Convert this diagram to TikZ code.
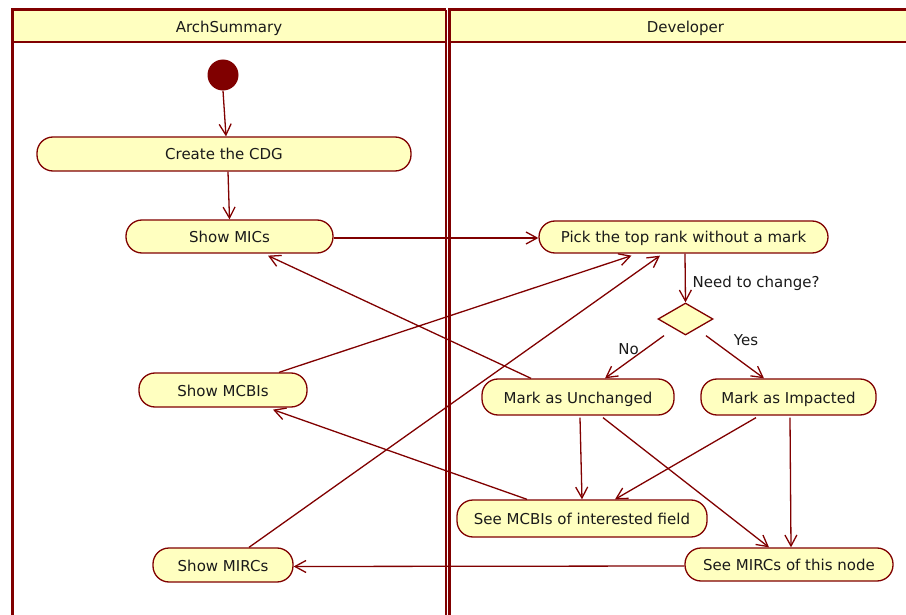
\documentclass[tikz,border=0pt]{standalone}
\usepackage{fontspec}
\setmainfont{DejaVu Sans}
\usetikzlibrary{arrows.meta,shapes.geometric}
\definecolor{umlred}{HTML}{800000}
\definecolor{umlfill}{HTML}{FFFFC0}
\definecolor{umltext}{HTML}{1A1A1A}
\begin{document}
\begin{tikzpicture}[x=1pt,y=-1pt,
  every node/.style={font=\fontsize{15}{18}\selectfont, text=umltext},
  action/.style={draw=umlred, fill=umlfill, line width=1.3pt, rounded corners=16pt,
    inner sep=0pt, minimum height=#1, text depth=0pt, text height=12pt},
  action/.default=34pt,
  decision/.style={diamond, draw=umlred, fill=umlfill, line width=1.3pt, inner sep=0pt,
    minimum width=55pt, minimum height=32pt},
  flow/.style={draw=umlred, line width=1.3pt,
    -{Straight Barb[length=11pt,width=12pt,line width=1.3pt]}},
  lane/.style={draw=umlred, line width=3pt},
  guard/.style={inner sep=0pt}
]
\useasboundingbox (0,0) rectangle (906,615);
\clip (0,0) rectangle (906,615);

% swimlane headers
\fill[umlfill] (12,10) rectangle (446,42);
\fill[umlfill] (450,10) rectangle (921,42);
\node (laneA) at (229,28.5) {ArchSummary};
\node (laneB) at (685.5,28.5) {Developer};

% swimlane frames
\draw[lane] (12,630) -- (12,10) -- (446,10);
\draw[lane, line width=2pt] (445.5,10) -- (445.5,630);
\draw[lane, line width=2.5pt] (12,42) -- (446,42);
\draw[lane] (449.5,630) -- (449.5,10) -- (921,10);
\draw[lane, line width=2.5pt] (450,42) -- (921,42);

% initial node
\node[circle, fill=umlred, minimum size=31pt, inner sep=0pt] (start) at (223,75) {};

% actions in the ArchSummary lane
\node[action, minimum width=374pt] (cdg)   at (224,154)   {Create the CDG};
\node[action=33pt, minimum width=207pt] (mics)  at (229.5,236.5) {Show MICs};
\node[action, minimum width=168pt] (mcbis) at (223,390)   {Show MCBIs};
\node[action, minimum width=140pt] (mircs) at (223,565)   {Show MIRCs};

% actions in the Developer lane
\node[action=32pt, minimum width=289pt] (pick) at (683.5,237) {Pick the top rank without a mark};
\node[decision] (need) at (685.5,319) {};
\node[action=36pt, minimum width=192pt] (unch) at (578,397) {Mark as Unchanged};
\node[action=36pt, minimum width=175pt] (imp)  at (788.5,397) {Mark as Impacted};
\node[action=37pt, minimum width=250pt] (field) at (582,518.5) {See MCBIs of interested field};
\node[action=33pt, minimum width=208pt] (node) at (789,564.5) {See MIRCs of this node};

% guard labels (shifts are in page units: negative yshift moves down)
\node[guard, anchor=west] (qlabel) at ([xshift=9pt,yshift=-30pt]pick.south) {Need to change?};
\node[guard] (nolabel) at ([xshift=-57pt,yshift=-13pt]need.south) {No};
\node[guard] (yeslabel) at ([xshift=60.5pt,yshift=-4pt]need.south) {Yes};

% control flows
\draw[flow] (start.south) -- ([xshift=2pt]cdg.north);
\draw[flow] ([xshift=4pt]cdg.south) -- (mics.north);
\draw[flow] ([yshift=-1.5pt]mics.east) -- ([yshift=-1pt]pick.west);
\draw[flow] ([xshift=1.5pt]pick.south) -- (need.north);
\draw[flow] ([xshift=-21.5pt]need.south) -- ([xshift=27pt]unch.north);
\draw[flow] ([xshift=20.5pt]need.south) -- ([xshift=-24.5pt]imp.north);
\draw[flow] ([xshift=-47pt]unch.north) -- ([xshift=38.5pt,yshift=-2pt]mics.south);
\draw[flow] ([xshift=56pt]mcbis.north) -- ([xshift=-52pt,yshift=-2pt]pick.south);
\draw[flow] ([xshift=26pt]mircs.north) -- ([xshift=-23.5pt,yshift=-2pt]pick.south);
\draw[flow] ([xshift=-55pt]field.north) -- ([xshift=50pt,yshift=-2pt]mcbis.south);
\draw[flow] ([xshift=2pt,yshift=-2pt]unch.south) -- (field.north);
\draw[flow] ([xshift=-32.5pt,yshift=-2pt]imp.south) -- ([xshift=33pt]field.north);
\draw[flow] ([xshift=25pt,yshift=-2pt]unch.south) -- ([xshift=-20pt]node.north);
\draw[flow] ([xshift=1.5pt,yshift=-2pt]imp.south) -- ([xshift=2pt]node.north);
\draw[flow] ([yshift=-1.5pt]node.west) -- ([yshift=-1.5pt]mircs.east);
\end{tikzpicture}
\end{document}
